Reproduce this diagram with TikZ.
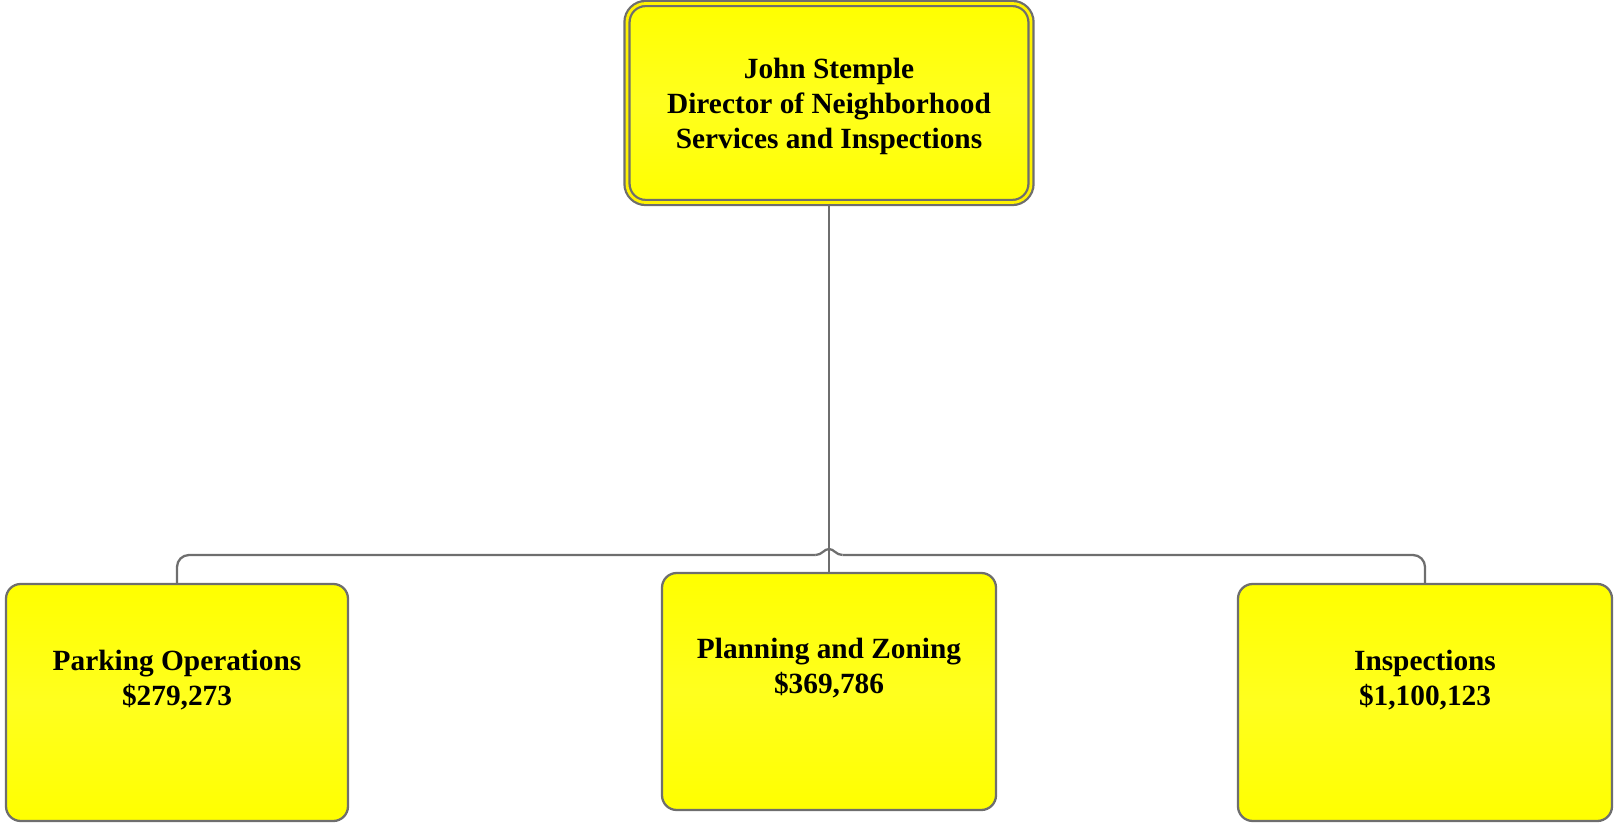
\documentclass[tikz,border=0pt]{standalone}
\usepackage{fontspec}
\setmainfont{Liberation Serif}
\definecolor{LineGray}{RGB}{110,110,110}

\begin{document}
\begin{tikzpicture}
      [
        x = 0.75pt, y = -0.75pt,
        BoxText/.style={font=\fontsize{22}{26.25}\selectfont\bfseries, align=center},
        UnitBox/.style={draw=LineGray, line width=1.7pt, rounded corners=11pt, top color=yellow, bottom color=yellow, middle color=yellow!88!white, minimum height=177.75pt},
        Link/.style={draw=LineGray, line width=1.7pt},
      ]
      \useasboundingbox (0,0) rectangle (1614,823);

      \node [UnitBox, BoxText, double=yellow, double distance=2.1pt, rounded corners=14pt, minimum width=303pt, minimum height=149.25pt, text depth=0pt] (director) at (829,103) {John Stemple\\Director of Neighborhood\\Services and Inspections};

      \node [UnitBox, minimum width=256.5pt] (parking) at (177,702.5) {};
      \node [UnitBox, minimum width=250.5pt] (planning) at (829,691.5) {};
      \node [UnitBox, minimum width=280.5pt] (inspections) at (1425,702.5) {};

      \node [BoxText, yshift=17pt] (parkingText) at (parking.center) {Parking Operations\\\$279,273};
      \node [BoxText, yshift=17.5pt] (planningText) at (planning.center) {Planning and Zoning\\\$369,786};
      \node [BoxText, yshift=17pt] (inspectionsText) at (inspections.center) {Inspections\\\$1,100,123};

      \draw [Link] (director.south) -- (planning.north);

      \coordinate (hopL) at (815.5,555);
      \coordinate (hopR) at (842.5,555);
      \draw [Link, rounded corners=9pt] (parking.north) |- (hopL);
      \draw [Link] (hopL) .. controls (822,555) and (824,549) .. (829,549) .. controls (834,549) and (836,555) .. (hopR);
      \draw [Link, rounded corners=9pt] (hopR) -| (inspections.north);
    \end{tikzpicture}
\end{document}
